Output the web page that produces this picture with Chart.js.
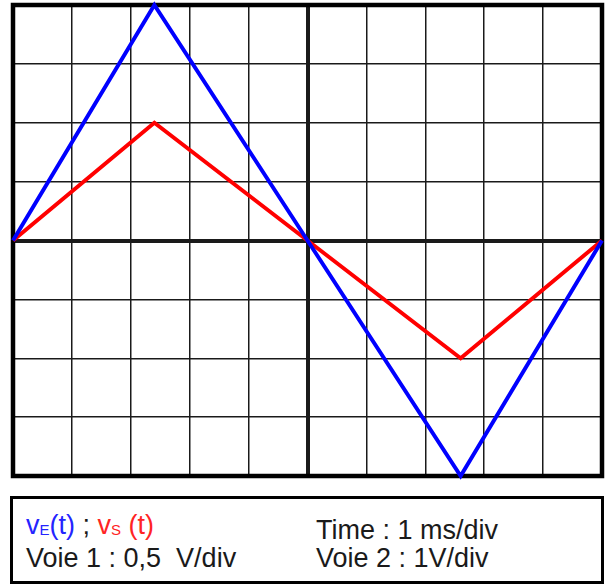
<!DOCTYPE html>
<html>
<head>
<meta charset="utf-8">
<script src="https://cdn.jsdelivr.net/npm/chart.js@4/dist/chart.umd.min.js"></script>
<style>
  html, body { margin: 0; padding: 0; background: #fff; }
  body { width: 609px; height: 586px; position: relative; overflow: hidden;
         font-family: "Liberation Sans", Arial, sans-serif; }
  #scope { position: absolute; left: 0; top: 0; }
  #info { position: absolute; left: 10px; top: 496px; width: 594px; height: 88px;
          box-sizing: border-box; border: 3.5px solid #000; }
  .col { position: absolute; font-size: 27px; line-height: 28px; color: #1a1a1a; white-space: pre; }
  .blue { color: #2424ff; }
  .red { color: #ff2424; }
  .sub { font-size: 15px; vertical-align: -1px; }
</style>
</head>
<body>
<canvas id="scope" width="609" height="490"></canvas>
<div id="info"></div>
<div class="col" style="left:26px; top:511px;"><span class="blue">v<span class="sub">E</span>(t)</span> ; <span class="red">v<span class="sub">S</span> (t)</span><br>Voie 1 : 0,5  V/div</div>
<div class="col" style="left:316px; top:516px;">Time : 1 ms/div<br>Voie 2 : 1V/div</div>
<script>
// Time axis in divisions (1 ms/div), screen spans 10 divisions
const timeDiv = [0, 2.4, 5, 7.6, 10];
// Triangle waves, in screen divisions
const vE = [0, 4, 0, -4, 0];
const vS = [0, 2, 0, -2, 0];
// Graticule limits
const xDivs = [0, 10];
const yDivs = [-4, 4];

const toPoints = (xs, ys) => xs.map((x, i) => ({ x: x, y: ys[i] }));

// Thick frame around the graticule, drawn under the traces
const framePlugin = {
  id: 'frame',
  beforeDatasetsDraw(chart) {
    const a = chart.chartArea;
    const ctx = chart.ctx;
    ctx.save();
    ctx.strokeStyle = '#000';
    ctx.lineWidth = 4.5;
    ctx.strokeRect(a.left, a.top, a.right - a.left, a.bottom - a.top);
    ctx.restore();
  }
};

const gridWidth = (centre) => (c) => (c.tick && c.tick.value === centre ? 4 : 1.5);

new Chart(document.getElementById('scope'), {
  type: 'line',
  data: {
    datasets: [
      { data: toPoints(timeDiv, vE), borderColor: '#0000ff', borderWidth: 4,
        pointRadius: 0, tension: 0, borderJoinStyle: 'miter', clip: false },
      { data: toPoints(timeDiv, vS), borderColor: '#ff0000', borderWidth: 4,
        pointRadius: 0, tension: 0, borderJoinStyle: 'miter', clip: false }
    ]
  },
  options: {
    responsive: false,
    animation: false,
    events: [],
    layout: { padding: { left: 13, top: 5, right: 7, bottom: 14 } },
    plugins: { legend: { display: false }, tooltip: { enabled: false } },
    scales: {
      x: {
        type: 'linear', min: xDivs[0], max: xDivs[1],
        ticks: { display: false, stepSize: 1 },
        grid: { color: '#1a1a1a', lineWidth: gridWidth(5), drawTicks: false },
        border: { display: false }
      },
      y: {
        type: 'linear', min: yDivs[0], max: yDivs[1],
        ticks: { display: false, stepSize: 1 },
        grid: { color: '#1a1a1a', lineWidth: gridWidth(0), drawTicks: false },
        border: { display: false }
      }
    }
  },
  plugins: [framePlugin]
});
</script>
</body>
</html>
